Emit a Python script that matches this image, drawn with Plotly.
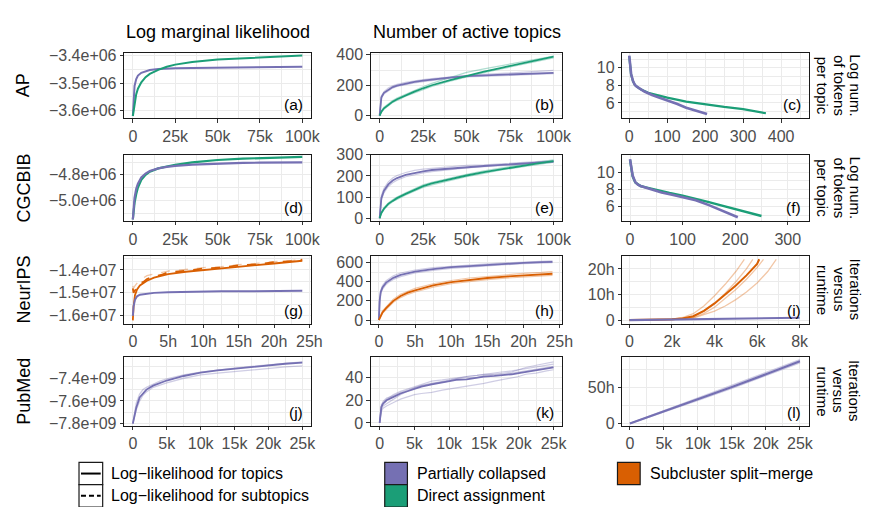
import plotly.graph_objects as go

W, H = 870, 507
FONT = "Liberation Sans, Arial, Helvetica, sans-serif"
PURPLE = "#7570B3"
GREEN = "#1B9E77"
ORANGE = "#D95F02"
PURPLE_T = "rgba(117,112,179,0.35)"
GREEN_T = "rgba(27,158,119,0.35)"
ORANGE_T = "rgba(217,95,2,0.35)"

# ---------------- data ----------------
COL_TITLES = ["Log marginal likelihood", "Number of active topics"]
ROW_TITLES = ["AP", "CGCBIB", "NeurIPS", "PubMed"]
RIGHT_TITLES = [["Log num.", "of tokens", "per topic"], ["Log num.", "of tokens", "per topic"],
                ["Iterations", "versus", "runtime"], ["Iterations", "versus", "runtime"]]
PANEL_LABELS = ["(a)", "(b)", "(c)", "(d)", "(e)", "(f)", "(g)", "(h)", "(i)", "(j)", "(k)", "(l)"]
LEGEND_LINES = ["Log\u2212likelihood for topics", "Log\u2212likelihood for subtopics"]
LEGEND_METHODS = ["Partially collapsed", "Direct assignment", "Subcluster split\u2212merge"]

# tick values / labels
X100K_VALS = [0, 25000, 50000, 75000, 100000]
X100K_TEXT = ["0", "25k", "50k", "75k", "100k"]
X25K_VALS = [0, 5000, 10000, 15000, 20000, 25000]
X25K_TEXT = ["0", "5k", "10k", "15k", "20k", "25k"]
XH_VALS = [0, 5, 10, 15, 20, 25]
XH_TEXT = ["0", "5h", "10h", "15h", "20h", "25h"]
X8K_VALS = [0, 2000, 4000, 6000, 8000]
X8K_TEXT = ["0", "2k", "4k", "6k", "8k"]
XC_VALS = [0, 100, 200, 300, 400]
XF_VALS = [0, 100, 200, 300]

YA_VALS = [-3.6e6, -3.5e6, -3.4e6]
YA_TEXT = ["\u22123.6e+06", "\u22123.5e+06", "\u22123.4e+06"]
YB_VALS = [0, 200, 400]
YC_VALS = [6, 8, 10]
YD_VALS = [-5.0e6, -4.8e6]
YD_TEXT = ["\u22125.0e+06", "\u22124.8e+06"]
YE_VALS = [0, 100, 200, 300]
YG_VALS = [-1.6e7, -1.5e7, -1.4e7]
YG_TEXT = ["\u22121.6e+07", "\u22121.5e+07", "\u22121.4e+07"]
YH_VALS = [0, 200, 400, 600]
YI_VALS = [0, 10, 20]
YI_TEXT = ["0", "10h", "20h"]
YJ_VALS = [-7.8e9, -7.6e9, -7.4e9]
YJ_TEXT = ["\u22127.8e+09", "\u22127.6e+09", "\u22127.4e+09"]
YK_VALS = [0, 20, 40]
YL_VALS = [0, 50]
YL_TEXT = ["0", "50h"]

# (a) AP log marginal likelihood
A_X = [0, 500, 1000, 2000, 3000, 5000, 7500, 10000, 15000, 20000, 25000, 35000, 50000, 65000, 75000, 90000, 100000]
A_PC = [-3.62e6, -3.55e6, -3.51e6, -3.485e6, -3.472e6, -3.462e6, -3.456e6, -3.452e6, -3.448e6, -3.446e6,
        -3.445e6, -3.444e6, -3.443e6, -3.442e6, -3.441e6, -3.440e6, -3.440e6]
A_DA = [-3.62e6, -3.60e6, -3.575e6, -3.54e6, -3.52e6, -3.497e6, -3.478e6, -3.466e6, -3.451e6, -3.440e6,
        -3.432e6, -3.422e6, -3.413e6, -3.408e6, -3.405e6, -3.401e6, -3.399e6]

# (b) AP active topics
B_X = [0, 500, 1000, 2500, 5000, 7500, 10000, 15000, 20000, 25000, 30000, 40000, 50000, 60000, 70000, 80000, 90000, 100000]
B_PC = [0, 90, 120, 150, 172, 188, 198, 212, 222, 230, 238, 250, 260, 265, 270, 275, 279, 282]
B_PC_R1 = [0, 100, 130, 158, 182, 196, 206, 219, 229, 237, 243, 255, 263, 271, 277, 283, 291, 298]
B_PC_R2 = [0, 82, 112, 143, 165, 181, 192, 206, 216, 224, 232, 245, 255, 260, 264, 268, 272, 276]
B_DA = [0, 15, 25, 48, 72, 92, 108, 135, 158, 180, 200, 232, 262, 290, 315, 338, 362, 388]
B_DA_R1 = [0, 18, 30, 55, 80, 100, 116, 142, 166, 190, 212, 248, 285, 308, 330, 352, 372, 392]
B_DA_R2 = [0, 12, 22, 42, 66, 86, 100, 128, 150, 172, 192, 225, 255, 282, 308, 332, 356, 380]

# (c) AP log tokens per topic (sorted)
C_PC_X = [0, 2, 5, 10, 15, 20, 30, 40, 50, 60, 80, 100, 125, 150, 175, 205]
C_PC = [11.4, 10.4, 9.3, 8.5, 8.05, 7.85, 7.55, 7.3, 7.1, 6.9, 6.6, 6.3, 5.9, 5.45, 5.1, 4.75]
C_DA_X = [0, 2, 5, 10, 15, 20, 30, 50, 75, 100, 150, 200, 250, 300, 340, 360]
C_DA = [11.3, 10.3, 9.2, 8.45, 8.05, 7.85, 7.55, 7.15, 6.85, 6.6, 6.15, 5.82, 5.55, 5.3, 5.0, 4.83]

# (d) CGCBIB log marginal likelihood
D_X = A_X
D_PC = [-5.15e6, -5.04e6, -4.98e6, -4.91e6, -4.87e6, -4.82e6, -4.79e6, -4.77e6, -4.75e6, -4.738e6,
        -4.73e6, -4.72e6, -4.712e6, -4.707e6, -4.705e6, -4.703e6, -4.702e6]
D_DA = [-5.15e6, -5.08e6, -5.02e6, -4.95e6, -4.90e6, -4.84e6, -4.80e6, -4.775e6, -4.75e6, -4.735e6,
        -4.722e6, -4.703e6, -4.684e6, -4.673e6, -4.668e6, -4.662e6, -4.660e6]

# (e) CGCBIB active topics
E_X = B_X
E_PC = [0, 70, 95, 130, 160, 178, 190, 205, 215, 222, 228, 235, 243, 247, 252, 257, 263, 268]
E_PC_R1 = [0, 80, 108, 142, 172, 190, 202, 216, 226, 232, 236, 242, 250, 252, 258, 262, 268, 272]
E_PC_R2 = [0, 62, 86, 120, 150, 168, 180, 196, 206, 214, 220, 230, 238, 244, 249, 254, 260, 264]
E_DA = [0, 15, 25, 45, 68, 82, 95, 115, 134, 152, 165, 184, 202, 218, 232, 245, 258, 270]
E_DA_R1 = [0, 17, 28, 50, 72, 87, 100, 120, 140, 158, 170, 190, 208, 224, 238, 252, 264, 276]
E_DA_R2 = [0, 13, 22, 41, 63, 78, 90, 110, 128, 146, 158, 178, 196, 212, 228, 240, 254, 265]

# (f) CGCBIB log tokens per topic
F_PC_X = [0, 2, 5, 10, 15, 20, 30, 40, 60, 80, 100, 125, 150, 175, 190, 205]
F_PC = [11.5, 10.6, 9.6, 8.85, 8.55, 8.4, 8.2, 8.0, 7.65, 7.4, 7.15, 6.75, 6.2, 5.55, 5.2, 4.8]
F_DA_X = [0, 2, 5, 10, 15, 20, 30, 50, 75, 100, 125, 150, 175, 200, 225, 250]
F_DA = [11.4, 10.5, 9.5, 8.8, 8.55, 8.4, 8.25, 7.95, 7.6, 7.3, 6.95, 6.55, 6.15, 5.75, 5.35, 4.95]

# (g) NeurIPS log marginal likelihood vs runtime (hours)
G_PC_X = [0, 0.1, 0.3, 0.6, 1, 2, 3, 5, 7.5, 10, 12.5, 15, 17.5, 20, 22.5, 24]
G_PC = [-1.60e7, -1.56e7, -1.53e7, -1.515e7, -1.508e7, -1.503e7, -1.500e7, -1.497e7, -1.495e7, -1.494e7,
        -1.493e7, -1.493e7, -1.492e7, -1.492e7, -1.491e7, -1.491e7]
G_SM_X = [0, 0.1, 0.3, 0.6, 1, 1.5, 2, 3, 4, 5, 7.5, 10, 12.5, 15, 17.5, 20, 22.5, 24]
G_SM = [-1.62e7, -1.56e7, -1.51e7, -1.485e7, -1.468e7, -1.456e7, -1.447e7, -1.434e7, -1.425e7, -1.418e7,
        -1.408e7, -1.400e7, -1.393e7, -1.386e7, -1.379e7, -1.372e7, -1.365e7, -1.360e7]
G_SM_SUB = [-1.48e7, -1.50e7, -1.49e7, -1.475e7, -1.458e7, -1.452e7, -1.440e7, -1.428e7, -1.422e7, -1.410e7,
            -1.404e7, -1.394e7, -1.390e7, -1.380e7, -1.376e7, -1.366e7, -1.362e7, -1.355e7]
G_SM_SUB_R1 = [-1.47e7, -1.48e7, -1.47e7, -1.455e7, -1.44e7, -1.435e7, -1.425e7, -1.418e7, -1.412e7, -1.405e7,
               -1.398e7, -1.390e7, -1.386e7, -1.377e7, -1.372e7, -1.364e7, -1.360e7, -1.352e7]

# (h) NeurIPS active topics vs runtime
H_PC_X = [0, 0.1, 0.25, 0.5, 1, 1.5, 2, 3, 4, 5, 7.5, 10, 12.5, 15, 17.5, 20, 22.5, 24]
H_PC = [0, 200, 290, 340, 390, 420, 440, 470, 490, 505, 530, 550, 562, 575, 585, 595, 602, 606]
H_PC_R1 = [0, 220, 310, 360, 410, 440, 460, 490, 505, 520, 545, 560, 574, 585, 595, 603, 610, 615]
H_PC_R2 = [0, 180, 270, 320, 370, 400, 422, 452, 474, 490, 516, 538, 552, 566, 576, 586, 594, 598]
H_SM_X = H_PC_X
H_SM = [0, 20, 45, 80, 124, 165, 200, 250, 285, 310, 360, 395, 420, 438, 453, 466, 475, 482]
H_SM_R1 = [0, 25, 55, 95, 140, 182, 218, 268, 302, 330, 378, 412, 438, 456, 472, 486, 496, 505]
H_SM_R2 = [0, 16, 38, 70, 110, 150, 185, 234, 268, 292, 342, 378, 402, 420, 436, 448, 458, 465]

# (i) NeurIPS runtime (hours) vs iterations
I_PC_X = [0, 2000, 4000, 6000, 8000]
I_PC = [0, 0.3, 0.5, 0.7, 0.9]
I_SM_X = [0, 1000, 2000, 2500, 3000, 3500, 4000, 4500, 5000, 5500, 6000, 6100]
I_SM = [0, 0.05, 0.3, 0.6, 1.5, 3.6, 6.5, 10, 13.5, 17.5, 22, 23.8]
I_SM_R1_X = [0, 1000, 2000, 2500, 3000, 3500, 4000, 4500, 5000, 5400]
I_SM_R1 = [0, 0.05, 0.4, 1.0, 2.5, 5.5, 9.5, 14, 19, 23.8]
I_SM_R2_X = [0, 2000, 3000, 3500, 4000, 4500, 5000, 5500, 6000, 6500, 6900]
I_SM_R2 = [0, 0.2, 0.8, 2.0, 3.5, 5.5, 8.0, 11, 14.5, 19, 23.8]
I_SM_R3_X = [0, 2000, 3000, 3500, 4000, 4500, 5000, 5500, 5800]
I_SM_R3 = [0, 0.3, 1.3, 3.5, 6.5, 10.5, 15, 20, 23.8]
I_SM_R4_X = [0, 2000, 3000, 3500, 4000, 4500, 5000, 5500, 6000, 6300]
I_SM_R4 = [0, 0.2, 1.0, 2.6, 5.0, 8.5, 12, 16, 20.5, 23.8]

# (j) PubMed log marginal likelihood
J_X = [0, 500, 1000, 1500, 2000, 3000, 4000, 5000, 7500, 10000, 12500, 15000, 17500, 20000, 22500, 25000]
J_PC = [-7.80e9, -7.66e9, -7.57e9, -7.53e9, -7.50e9, -7.465e9, -7.44e9, -7.42e9, -7.38e9, -7.35e9,
        -7.33e9, -7.315e9, -7.30e9, -7.285e9, -7.272e9, -7.262e9]
J_PC_R1 = [-7.80e9, -7.68e9, -7.60e9, -7.55e9, -7.52e9, -7.48e9, -7.46e9, -7.44e9, -7.40e9, -7.37e9,
           -7.355e9, -7.34e9, -7.325e9, -7.31e9, -7.30e9, -7.29e9]
J_PC_R2 = [-7.80e9, -7.62e9, -7.54e9, -7.50e9, -7.48e9, -7.45e9, -7.425e9, -7.405e9, -7.37e9, -7.345e9,
           -7.325e9, -7.31e9, -7.295e9, -7.28e9, -7.268e9, -7.255e9]

# (k) PubMed active topics
K_X = [0, 250, 500, 1000, 2000, 3000, 4000, 5000, 6000, 7500, 9000, 10000, 11000, 12500, 14000, 15000,
       16500, 17500, 19000, 20000, 21000, 22500, 24000, 25000]
K_PC = [0, 14, 17, 20, 23, 26, 28, 30, 32, 34, 36, 37, 38, 38.5, 40, 41, 41.5, 42, 43, 44, 45, 46.5, 48, 49]
K_PC_R1 = [0, 10, 13, 15, 18, 21, 23, 25, 26, 27, 29, 30, 31, 32, 34, 35, 37, 38, 40, 41, 43, 44, 46, 47]
K_PC_R2 = [0, 16, 18, 21, 25, 28, 30, 32, 34, 37, 38, 39, 40, 41, 42, 43, 44, 45, 46, 47, 48, 50, 51, 52]
K_PC_R3 = [0, 12, 15, 17, 21, 25, 28, 31, 33, 35, 37, 38, 39, 41, 42, 43, 43, 44, 45, 47, 49, 51, 53, 54]
K_PC_R4 = [0, 15, 19, 22, 24, 27, 29, 31, 33, 35, 36, 37, 39, 40, 40, 42, 43, 43, 44, 45, 46, 47, 49, 50]

# (l) PubMed runtime (hours) vs iterations
L_X = [0, 5000, 10000, 15000, 20000, 25000]
L_PC = [0, 16.5, 33.5, 50.5, 68, 86]
L_PC_R1 = [0, 17.5, 35, 52.5, 70, 88]
L_PC_R2 = [0, 15.8, 32, 48.5, 66, 84]

# ---------------- layout helpers ----------------
COLS_PX = [(118, 307), (368, 562), (623, 812)]
ROWS_PX = [(38, 105), (143, 211), (247, 317), (351, 422)]


def px(x):
    return x / W


def py(y):
    return 1 - y / H


def minor_of(vals):
    step = vals[1] - vals[0]
    out = [vals[0] - step / 2]
    for a, b in zip(vals[:-1], vals[1:]):
        out.append((a + b) / 2)
    out.append(vals[-1] + step / 2)
    return out


def fmt(vals):
    return [("\u2212" + str(v)[1:]) if v < 0 else str(v) for v in vals]


PANELS = [
    # n, row, col, xrange, xvals, xtext, yrange, yvals, ytext
    (1, 0, 0, [-5000, 105000], X100K_VALS, X100K_TEXT, [-3.627e6, -3.389e6], YA_VALS, YA_TEXT),
    (2, 0, 1, [-5000, 105000], X100K_VALS, X100K_TEXT, [-15, 413], YB_VALS, fmt(YB_VALS)),
    (3, 0, 2, [-18, 473], XC_VALS, fmt(XC_VALS), [4.3, 11.7], YC_VALS, fmt(YC_VALS)),
    (4, 1, 0, [-5000, 105000], X100K_VALS, X100K_TEXT, [-5.16e6, -4.643e6], YD_VALS, YD_TEXT),
    (5, 1, 1, [-5000, 105000], X100K_VALS, X100K_TEXT, [-12, 300], YE_VALS, fmt(YE_VALS)),
    (6, 1, 2, [-14.5, 340], XF_VALS, fmt(XF_VALS), [4.4, 12.0], YC_VALS, fmt(YC_VALS)),
    (7, 2, 0, [-1.2, 25.2], XH_VALS, XH_TEXT, [-1.634e7, -1.338e7], YG_VALS, YG_TEXT),
    (8, 2, 1, [-1.1, 25.35], XH_VALS, XH_TEXT, [-37, 670], YH_VALS, fmt(YH_VALS)),
    (9, 2, 2, [-330, 8430], X8K_VALS, X8K_TEXT, [-1.4, 25.2], YI_VALS, YI_TEXT),
    (10, 3, 0, [-1250, 26250], X25K_VALS, X25K_TEXT, [-7.817e9, -7.209e9], YJ_VALS, YJ_TEXT),
    (11, 3, 1, [-1250, 26250], X25K_VALS, X25K_TEXT, [-2.3, 58.6], YK_VALS, fmt(YK_VALS)),
    (12, 3, 2, [-1100, 26300], X25K_VALS, X25K_TEXT, [-2.8, 92.4], YL_VALS, YL_TEXT),
]

fig = go.Figure()


def add(n, x, y, color, width=1.6, dash="solid"):
    fig.add_trace(go.Scatter(
        x=x, y=y, mode="lines", line=dict(color=color, width=width, dash=dash),
        xaxis="x" if n == 1 else f"x{n}", yaxis="y" if n == 1 else f"y{n}",
        showlegend=False, hoverinfo="skip"))


# (a)
add(1, A_X, A_PC, PURPLE, 2.0)
add(1, A_X, A_DA, GREEN, 2.0)
# (b)
for r in (B_PC_R1, B_PC_R2):
    add(2, B_X, r, PURPLE_T, 1.2)
for r in (B_DA_R1, B_DA_R2):
    add(2, B_X, r, GREEN_T, 1.2)
add(2, B_X, B_PC, PURPLE, 1.8)
add(2, B_X, B_DA, GREEN, 1.8)
# (c)
add(3, C_DA_X, C_DA, GREEN, 2.2)
add(3, C_PC_X, C_PC, PURPLE, 2.6)
# (d)
add(4, D_X, D_DA, GREEN, 2.2)
add(4, D_X, D_PC, PURPLE, 2.2)
# (e)
for r in (E_PC_R1, E_PC_R2):
    add(5, E_X, r, PURPLE_T, 1.2)
for r in (E_DA_R1, E_DA_R2):
    add(5, E_X, r, GREEN_T, 1.2)
add(5, E_X, E_PC, PURPLE, 1.8)
add(5, E_X, E_DA, GREEN, 1.8)
# (f)
add(6, F_DA_X, F_DA, GREEN, 2.4)
add(6, F_PC_X, F_PC, PURPLE, 2.6)
# (g)
add(7, G_SM_X, G_SM_SUB_R1, ORANGE_T, 1.3, "dash")
add(7, G_SM_X, G_SM, ORANGE, 1.8)
add(7, G_SM_X, G_SM_SUB, ORANGE, 1.8, "dash")
add(7, G_PC_X, G_PC, PURPLE, 2.0)
# (h)
for r in (H_PC_R1, H_PC_R2):
    add(8, H_PC_X, r, PURPLE_T, 1.2)
for r in (H_SM_R1, H_SM_R2):
    add(8, H_SM_X, r, ORANGE_T, 1.2)
add(8, H_PC_X, H_PC, PURPLE, 1.8)
add(8, H_SM_X, H_SM, ORANGE, 1.8)
# (i)
add(9, I_SM_R1_X, I_SM_R1, ORANGE_T, 1.3)
add(9, I_SM_R2_X, I_SM_R2, ORANGE_T, 1.3)
add(9, I_SM_R3_X, I_SM_R3, ORANGE_T, 1.3)
add(9, I_SM_R4_X, I_SM_R4, ORANGE_T, 1.3)
add(9, I_SM_X, I_SM, ORANGE, 2.0)
add(9, I_PC_X, I_PC, PURPLE, 2.2)
# (j)
for r in (J_PC_R1, J_PC_R2):
    add(10, J_X, r, PURPLE_T, 1.3)
add(10, J_X, J_PC, PURPLE, 1.8)
# (k)
for r in (K_PC_R1, K_PC_R2, K_PC_R3, K_PC_R4):
    add(11, K_X, r, PURPLE_T, 1.2)
add(11, K_X, K_PC, PURPLE, 1.8)
# (l)
for r in (L_PC_R1, L_PC_R2):
    add(12, L_X, r, PURPLE_T, 1.5)
add(12, L_X, L_PC, PURPLE, 2.2)

GRID = "#EBEBEB"
TICKFONT = dict(family=FONT, size=16, color="#4D4D4D")
annotations = []
layout = {}
for (n, r, c, xr, xv, xt, yr, yv, yt) in PANELS:
    sx = "" if n == 1 else str(n)
    x0, x1 = COLS_PX[c]
    y0, y1 = ROWS_PX[r]
    common = dict(showline=True, mirror=True, linecolor="#1A1A1A", linewidth=1.3,
                  ticks="outside", ticklen=3.5, tickwidth=1, tickcolor="#333333",
                  showgrid=True, gridcolor=GRID, gridwidth=1.1, zeroline=False,
                  tickfont=TICKFONT, tickmode="array", fixedrange=True)
    layout[f"xaxis{sx}"] = dict(common, domain=[px(x0), px(x1)], range=xr, tickvals=xv, ticktext=xt,
                                anchor=f"y{sx}",
                                minor=dict(tickmode="array", tickvals=minor_of(xv), showgrid=True,
                                           gridcolor=GRID, gridwidth=0.55, ticks=""))
    layout[f"yaxis{sx}"] = dict(common, domain=[py(y1), py(y0)], range=yr, tickvals=yv, ticktext=yt,
                                anchor=f"x{sx}",
                                minor=dict(tickmode="array", tickvals=minor_of(yv), showgrid=True,
                                           gridcolor=GRID, gridwidth=0.55, ticks=""))
    annotations.append(dict(text=PANEL_LABELS[n - 1], xref=f"x{sx} domain", yref=f"y{sx} domain",
                            x=1, y=0, xshift=-6, yshift=3, xanchor="right", yanchor="bottom",
                            showarrow=False, font=dict(family=FONT, size=15.5, color="black")))

# column titles
for i, t in enumerate(COL_TITLES):
    x0, x1 = COLS_PX[i]
    annotations.append(dict(text=t, xref="paper", yref="paper", x=px((x0 + x1) / 2), y=py(17),
                            xanchor="center", yanchor="middle", showarrow=False,
                            font=dict(family=FONT, size=18, color="black")))
# row titles
for i, t in enumerate(ROW_TITLES):
    y0, y1 = ROWS_PX[i]
    annotations.append(dict(text=t, xref="paper", yref="paper", x=px(16), y=py((y0 + y1) / 2),
                            xanchor="center", yanchor="middle", textangle=-90, showarrow=False,
                            font=dict(family=FONT, size=18, color="black")))
# right strip titles (one annotation per line; first line is rightmost)
STRIP_X = [859, 843, 826]
for i, lines in enumerate(RIGHT_TITLES):
    y0, y1 = ROWS_PX[i]
    for j, t in enumerate(lines):
        annotations.append(dict(text=t, xref="paper", yref="paper", x=px(STRIP_X[j]), y=py((y0 + y1) / 2),
                                xanchor="center", yanchor="middle", textangle=90, showarrow=False,
                                font=dict(family=FONT, size=15, color="black")))

# ---------------- legend (drawn) ----------------
shapes = []
LEG_FONT = dict(family=FONT, size=16, color="black")
ROW1 = (460, 483)
ROW2 = (483, 506)


def rect(x0, w, yy, fill):
    shapes.append(dict(type="rect", xref="paper", yref="paper", x0=px(x0), x1=px(x0 + w),
                       y0=py(yy[1]), y1=py(yy[0]), fillcolor=fill,
                       line=dict(color="#1A1A1A", width=1.2), layer="above"))


def leg_text(x, yy, t):
    annotations.append(dict(text=t, xref="paper", yref="paper", x=px(x), y=py((yy[0] + yy[1]) / 2),
                            xanchor="left", yanchor="middle", showarrow=False, font=LEG_FONT))


LINE_KEY_X, LINE_KEY_W = 72, 24
COLOR_KEY_W = 23
PC_KEY_X = 382
SM_KEY_X = 618
rect(LINE_KEY_X, LINE_KEY_W, ROW1, "white")
rect(LINE_KEY_X, LINE_KEY_W, ROW2, "white")
shapes.append(dict(type="line", xref="paper", yref="paper", x0=px(LINE_KEY_X + 2), x1=px(LINE_KEY_X + LINE_KEY_W - 2),
                   y0=py(471.5), y1=py(471.5), line=dict(color="black", width=2)))
shapes.append(dict(type="line", xref="paper", yref="paper", x0=px(LINE_KEY_X + 2), x1=px(LINE_KEY_X + LINE_KEY_W - 2),
                   y0=py(494.5), y1=py(494.5), line=dict(color="black", width=2, dash="5px,3px")))
leg_text(LINE_KEY_X + LINE_KEY_W + 6, ROW1, LEGEND_LINES[0])
leg_text(LINE_KEY_X + LINE_KEY_W + 6, ROW2, LEGEND_LINES[1])
rect(PC_KEY_X, COLOR_KEY_W, ROW1, PURPLE)
rect(PC_KEY_X, COLOR_KEY_W, ROW2, GREEN)
leg_text(PC_KEY_X + COLOR_KEY_W + 8, ROW1, LEGEND_METHODS[0])
leg_text(PC_KEY_X + COLOR_KEY_W + 8, ROW2, LEGEND_METHODS[1])
rect(SM_KEY_X, COLOR_KEY_W, ROW1, ORANGE)
leg_text(SM_KEY_X + COLOR_KEY_W + 8, ROW1, LEGEND_METHODS[2])

fig.update_layout(
    width=W, height=H, margin=dict(l=0, r=0, t=0, b=0),
    paper_bgcolor="white", plot_bgcolor="white",
    font=dict(family=FONT), showlegend=False,
    annotations=annotations, shapes=shapes, **layout)

fig.write_html("out.html")
